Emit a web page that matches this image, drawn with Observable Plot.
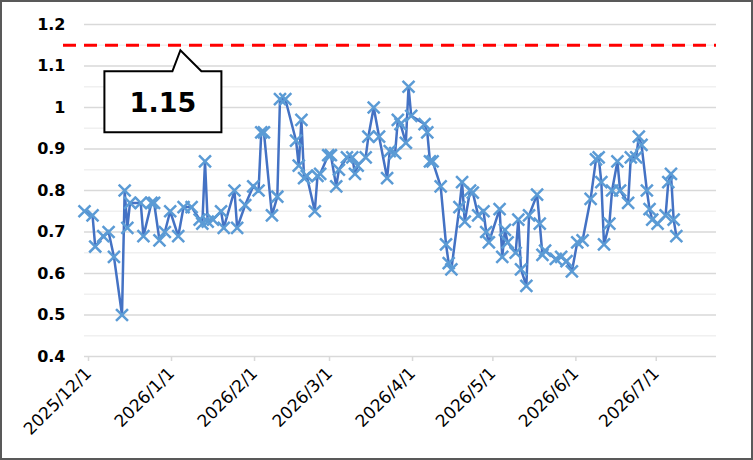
<!DOCTYPE html>
<html><head><meta charset="utf-8">
<script src="https://cdn.jsdelivr.net/npm/d3@7"></script>
<script src="https://cdn.jsdelivr.net/npm/@observablehq/plot@0.6"></script>
<style>
body{margin:0;background:#fff;}
#wrap{position:relative;width:753px;height:460px;overflow:hidden;}
#wrap::after{content:"";position:absolute;left:0;top:0;right:0;bottom:0;border:2px solid #595959;pointer-events:none;}
</style></head><body><div id="wrap"></div>
<script>
const dates = [
"2025-12-01","2025-12-04","2025-12-05","2025-12-08","2025-12-10","2025-12-12","2025-12-15","2025-12-16","2025-12-17","2025-12-18",
"2025-12-22","2025-12-23","2025-12-26","2025-12-27","2025-12-29","2025-12-31","2026-01-02","2026-01-05","2026-01-07","2026-01-10",
"2026-01-13","2026-01-14","2026-01-15","2026-01-16","2026-01-18","2026-01-21","2026-01-22","2026-01-26","2026-01-27","2026-01-30",
"2026-02-02","2026-02-04","2026-02-05","2026-02-06","2026-02-09","2026-02-11","2026-02-12","2026-02-14","2026-02-18","2026-02-19",
"2026-02-20","2026-02-21","2026-02-22","2026-02-25","2026-02-26","2026-02-27","2026-03-02","2026-03-03","2026-03-05","2026-03-06",
"2026-03-09","2026-03-11","2026-03-12","2026-03-13","2026-03-16","2026-03-17","2026-03-19","2026-03-21","2026-03-24","2026-03-25",
"2026-03-27","2026-03-28","2026-03-29","2026-03-31","2026-04-01","2026-04-02","2026-04-07","2026-04-08","2026-04-09","2026-04-10",
"2026-04-13","2026-04-15","2026-04-16","2026-04-17","2026-04-20","2026-04-21","2026-04-22","2026-04-24","2026-04-25","2026-04-27",
"2026-04-29","2026-04-30","2026-05-01","2026-05-05","2026-05-06","2026-05-07","2026-05-08","2026-05-11","2026-05-12","2026-05-13",
"2026-05-15","2026-05-16","2026-05-19","2026-05-20","2026-05-21","2026-05-22","2026-05-26","2026-05-28","2026-05-30","2026-06-01",
"2026-06-03","2026-06-05","2026-06-08","2026-06-10","2026-06-11","2026-06-12","2026-06-13","2026-06-15","2026-06-16","2026-06-18",
"2026-06-19","2026-06-22","2026-06-23","2026-06-25","2026-06-26","2026-06-27","2026-06-29","2026-06-30","2026-07-01","2026-07-03",
"2026-07-06","2026-07-07","2026-07-08","2026-07-09","2026-07-10"
];
const values = [
0.75,0.74,0.665,0.69,0.70,0.64,0.50,0.80,0.71,0.77,
0.77,0.69,0.77,0.77,0.68,0.70,0.75,0.69,0.76,0.76,
0.73,0.72,0.87,0.725,0.73,0.75,0.71,0.80,0.71,0.765,
0.81,0.80,0.94,0.94,0.74,0.785,1.02,1.02,0.92,0.86,
0.97,0.83,0.835,0.75,0.835,0.84,0.885,0.885,0.81,0.85,
0.88,0.88,0.84,0.86,0.88,0.93,1.00,0.93,0.83,0.895,
0.89,0.97,0.96,0.915,1.05,0.98,0.96,0.94,0.87,0.87,
0.81,0.67,0.625,0.61,0.76,0.82,0.725,0.80,0.795,0.74,
0.75,0.70,0.675,0.755,0.64,0.705,0.675,0.65,0.73,0.61,
0.57,0.74,0.79,0.72,0.645,0.655,0.635,0.64,0.63,0.605,
0.675,0.68,0.78,0.875,0.88,0.82,0.67,0.72,0.80,0.87,
0.80,0.77,0.88,0.88,0.93,0.91,0.80,0.755,0.73,0.72,
0.74,0.82,0.84,0.73,0.69
];
const limit = 1.15;
const limitLabel = "1.15";
const calloutDate = "2026-01-06";
const yTicks = [0.4,0.5,0.6,0.7,0.8,0.9,1.0,1.1,1.2];
const yMinor = [0.45,0.55,0.65,0.75,0.85,0.95,1.05,1.15];
const xTicks = ["2025-12-01","2026-01-01","2026-02-01","2026-03-01","2026-04-01","2026-05-01","2026-06-01","2026-07-01"];
const xDomain = ["2025-12-01","2026-07-25"];

const parse = s => new Date(s + "T00:00:00Z");
const data = dates.map((d, i) => ({date: parse(d), value: values[i]}));
const fmtDate = d => `${d.getUTCFullYear()}/${d.getUTCMonth() + 1}/${d.getUTCDate()}`;

function callout(index, scales) {
  const px = scales.x(parse(calloutDate));
  const py = scales.y(limit) + 5.5;
  const g = d3.create("svg:g");
  g.append("path")
    .attr("d", `M${px-76},${py+21}H${px-8}L${px},${py}L${px+21},${py+21}H${px+41}V${py+82}H${px-76}Z`)
    .attr("fill", "white").attr("stroke", "black").attr("stroke-width", 2)
    .attr("stroke-linejoin", "miter");
  g.append("text")
    .attr("x", px - 17.5).attr("y", py + 52)
    .attr("text-anchor", "middle").attr("dominant-baseline", "central")
    .attr("font-family", "DejaVu Sans").attr("font-weight", "bold").attr("font-size", 27)
    .attr("fill", "black")
    .text(limitLabel);
  return g.node();
}

const chart = Plot.plot({
  width: 753, height: 460,
  marginLeft: 84, marginRight: 37, marginTop: 24, marginBottom: 104,
  style: {fontFamily: "DejaVu Sans", background: "transparent", color: "black", overflow: "visible"},
  x: {type: "utc", domain: xDomain.map(parse)},
  y: {domain: [0.4, 1.2]},
  marks: [
    Plot.ruleY(yMinor, {stroke: "#f0f0f0", strokeWidth: 1.5}),
    Plot.ruleY(yTicks, {stroke: "#d9d9d9", strokeWidth: 1.5}),
    Plot.axisY({ticks: yTicks, tickSize: 0, tickPadding: 19, fontSize: 16, fontWeight: "bold", label: null,
      tickFormat: d => String(+d.toFixed(2))}),
    Plot.axisX({ticks: xTicks.map(parse), tickSize: 5, tickRotate: -45, stroke: "#d9d9d9", strokeWidth: 1.5,
      fontSize: 17, label: null, tickFormat: fmtDate, tickPadding: 9, dx: 4}),
    Plot.ruleY([limit], {stroke: "#ff0000", strokeWidth: 3, strokeDasharray: "13,8", insetLeft: -21}),
    Plot.line(data, {x: "date", y: "value", stroke: "#4472C4", strokeWidth: 2.5}),
    Plot.dot(data, {x: "date", y: "value", symbol: "times", r: 5.5, stroke: "#5B9BD5", strokeWidth: 2.5}),
    callout
  ]
});
document.getElementById("wrap").appendChild(chart);
</script>
</body></html>
